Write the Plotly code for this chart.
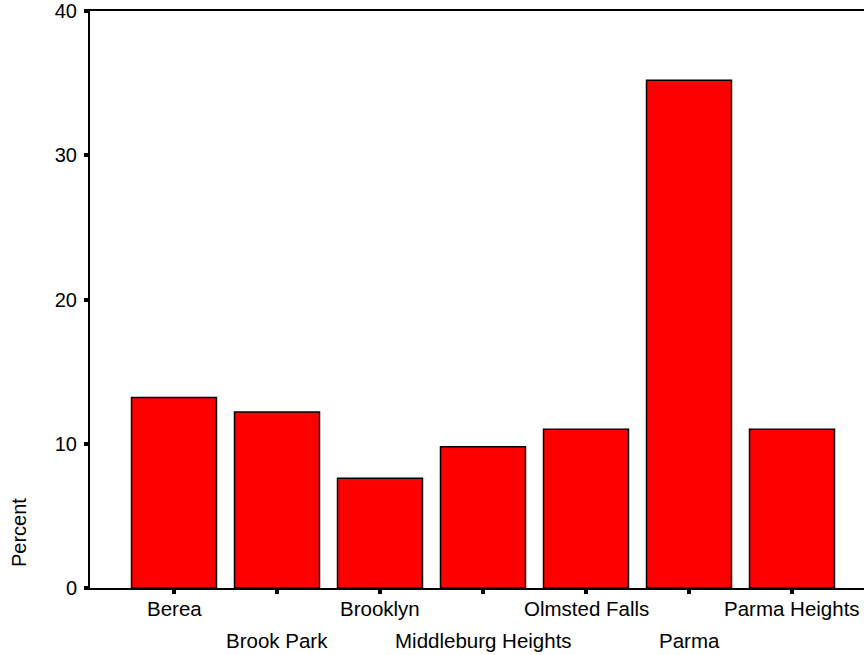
import plotly.graph_objects as go

categories = ["Berea", "Brook Park", "Brooklyn", "Middleburg Heights",
              "Olmsted Falls", "Parma", "Parma Heights"]
percent = [13.2, 12.2, 7.6, 9.8, 11.0, 35.2, 11.0]
y_ticks = [0, 10, 20, 30, 40]

FONT = "Liberation Sans, Arial, sans-serif"
FS = 20
FS_CAT = 20.5

xs = list(range(len(categories)))
fig = go.Figure(go.Bar(
    x=xs, y=percent, width=0.825,
    marker=dict(color="#ff0000", line=dict(color="black", width=1.5)),
))

W, H = 864, 655
left, top, bottom = 90, 11, 67
plot_w = W - left
spacing = 103
x0 = -(174 - 90) / spacing
x1 = x0 + plot_w / spacing

annotations = []
for i, c in enumerate(categories):
    annotations.append(dict(
        x=i, xref="x", y=0, yref="paper", yanchor="top", xanchor="center",
        text=c, showarrow=False, font=dict(family=FONT, size=FS_CAT, color="black"),
        yshift=-7 if i % 2 == 0 else -39,
    ))
annotations.append(dict(
    x=0, xref="paper", y=0, yref="paper", xanchor="center", yanchor="middle",
    text="Percent", textangle=-90, showarrow=False,
    font=dict(family=FONT, size=FS, color="black"),
    xshift=-71, yshift=55,
))

fig.update_layout(
    width=W, height=H,
    margin=dict(l=left, r=0, t=top, b=bottom, pad=0, autoexpand=False),
    paper_bgcolor="white", plot_bgcolor="white",
    showlegend=False,
    font=dict(family=FONT, size=FS, color="black"),
    xaxis=dict(range=[x0, x1], tickmode="array", tickvals=xs, showticklabels=False,
               ticks="outside", ticklen=4, tickwidth=4, tickcolor="black",
               showline=True, linecolor="black", linewidth=2, showgrid=False,
               zeroline=False, mirror=True, fixedrange=True, automargin=False),
    yaxis=dict(range=[0, 40], tickmode="array", tickvals=y_ticks,
               ticks="outside", ticklen=4, tickwidth=4, tickcolor="black",
               ticklabelstandoff=3, ticklabeloverflow="allow", automargin=False,
               showline=True, linecolor="black", linewidth=2, showgrid=False,
               zeroline=False, mirror=False, fixedrange=True,
               tickfont=dict(family=FONT, size=FS, color="black")),
    annotations=annotations,
)

fig.write_html("out.html", config={"displayModeBar": False},
               post_script="document.body.style.margin='0px';")
